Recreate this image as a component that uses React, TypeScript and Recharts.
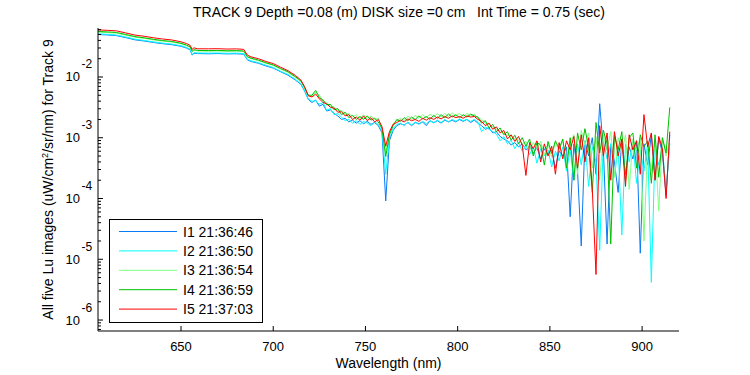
import { LineChart, Line, XAxis, YAxis, Legend } from "recharts";

const wavelengths = [
  605, 610, 615, 620, 625, 630, 635, 640, 645, 650,
  653, 655, 656, 657, 659, 665, 670, 675, 680, 684,
  686, 688, 692, 696, 700, 704, 708, 712, 715, 717,
  719,
  721, 723, 725, 727, 729, 731, 733, 735, 737, 739,
  741, 743, 745, 747, 749, 751, 753, 755, 757, 759,
  761, 763, 765, 767, 769, 771, 773, 775, 777, 779,
  781, 783, 785, 787, 789, 791, 793, 795, 797, 799,
  801, 803, 805, 807, 809, 811, 813, 815, 817, 819,
  821, 823, 825, 827, 829, 831, 833, 835, 837, 839,
  841, 843, 845, 847, 849, 851, 853, 855, 857, 859,
  861, 863, 865, 867, 869, 871, 873, 875, 877, 879,
  881, 883, 885, 887, 889, 891, 893, 895, 897, 899,
  901, 903, 905, 907, 909, 911, 913, 915,
];

// I1 21:36:46
const lu1 = [
  0.0501, 0.0492, 0.0479, 0.0445, 0.0409, 0.0391, 0.037, 0.0353, 0.034, 0.032,
  0.0299, 0.0279, 0.0229, 0.0245, 0.0243, 0.0241, 0.0243, 0.024, 0.0241, 0.0237,
  0.0191, 0.018, 0.0168, 0.0152, 0.014, 0.0122, 0.0107, 0.00891, 0.00759, 0.00589,
  0.00427,
  0.0038, 0.00417, 0.00331, 0.00355, 0.00275, 0.00288, 0.00251, 0.00229, 0.002, 0.00209,
  0.00182, 0.00195, 0.00174, 0.00191, 0.0017, 0.00186, 0.00166, 0.00178, 0.00158, 0.0012,
  9.12e-5, 0.000891, 0.00132, 0.00158, 0.0017, 0.00162, 0.00178, 0.00158, 0.00178, 0.0017,
  0.00182, 0.00158, 0.00191, 0.00178, 0.00191, 0.00174, 0.00195, 0.00182, 0.00195, 0.00182,
  0.002, 0.00186, 0.002, 0.00178, 0.00195, 0.00174, 0.00158, 0.00138, 0.00145, 0.0012,
  0.00126, 0.00105, 0.000955, 0.000891, 0.000759, 0.000832, 0.000708, 0.000794, 0.000631, 0.000724,
  0.00055, 0.000692, 0.000447, 0.000661, 0.000525, 0.000631, 0.000316, 0.000603, 0.000501, 0.000708,
  5.01e-5, 0.000794, 0.000282, 1.66e-5, 0.000891, 0.000501, 0.001, 0.000251, 0.00363, 0.000631,
  1.78e-5, 0.000794, 0.000398, 0.000126, 0.000891, 0.000251, 0.000708, 0.000447, 0.000891, 1.26e-5,
  0.000794, 0.000355, 0.00112, 0.0002, 0.001, 0.000562, 0.000112, 0.00112,
];

// I2 21:36:50
const lu2 = [
  0.0513, 0.0504, 0.049, 0.0455, 0.0419, 0.04, 0.0378, 0.0361, 0.0348, 0.0327,
  0.0305, 0.0285, 0.0234, 0.0251, 0.0248, 0.0247, 0.0248, 0.0245, 0.0247, 0.0243,
  0.0195, 0.0184, 0.0172, 0.0156, 0.0143, 0.0124, 0.011, 0.00912, 0.00776, 0.00603,
  0.00437,
  0.00398, 0.00407, 0.00355, 0.0038, 0.00282, 0.00302, 0.0024, 0.00251, 0.00219, 0.00191,
  0.002, 0.00174, 0.00191, 0.00166, 0.00186, 0.00174, 0.00158, 0.00182, 0.00166, 0.00126,
  0.000251, 0.001, 0.00141, 0.00166, 0.00174, 0.00158, 0.00182, 0.00162, 0.00182, 0.00166,
  0.00186, 0.0017, 0.00191, 0.00174, 0.00195, 0.00178, 0.002, 0.00182, 0.002, 0.00186,
  0.00204, 0.00191, 0.002, 0.00186, 0.002, 0.00182, 0.00126, 0.00151, 0.00138, 0.00126,
  0.00115, 0.000891, 0.00105, 0.000794, 0.000912, 0.000661, 0.000832, 0.000603, 0.000759, 0.000525,
  0.000708, 0.00038, 0.000661, 0.000501, 0.000631, 0.000331, 0.000603, 0.000417, 0.000708, 0.000282,
  0.000631, 0.0002, 0.000794, 0.000355, 0.000891, 0.000158, 0.000708, 0.000398, 1.41e-5, 0.000891,
  0.000447, 0.000794, 0.000224, 0.000708, 2.51e-5, 0.000794, 0.000398, 0.000891, 0.000178, 0.000631,
  0.000282, 0.000794, 4.17e-6, 0.000631, 0.000355, 0.000708, 0.000126, 0.000794,
];

// I3 21:36:54
const lu3 = [
  0.0547, 0.0537, 0.0525, 0.0488, 0.0452, 0.0432, 0.0407, 0.0389, 0.0376, 0.0351,
  0.0327, 0.0305, 0.0257, 0.0275, 0.0268, 0.0266, 0.0268, 0.0264, 0.0266, 0.0262,
  0.0211, 0.02, 0.0185, 0.0168, 0.0155, 0.0135, 0.0119, 0.00989, 0.00841, 0.00661,
  0.0049,
  0.00479, 0.00562, 0.00501, 0.00398, 0.0038, 0.00331, 0.00324, 0.00275, 0.00282, 0.0024,
  0.00251, 0.00219, 0.0024, 0.00209, 0.0024, 0.00204, 0.00229, 0.002, 0.00209, 0.00145,
  0.000562, 0.00117, 0.0017, 0.00191, 0.00209, 0.00191, 0.00229, 0.002, 0.00234, 0.00209,
  0.0024, 0.00214, 0.00245, 0.00219, 0.00251, 0.00219, 0.00251, 0.00224, 0.00257, 0.00229,
  0.00251, 0.00224, 0.00251, 0.00229, 0.00245, 0.00209, 0.002, 0.00174, 0.00166, 0.00151,
  0.00138, 0.00132, 0.00117, 0.0011, 0.00105, 0.000955, 0.000912, 0.000794, 0.000871, 0.000631,
  0.000832, 0.000661, 0.000871, 0.000525, 0.000794, 0.000479, 0.000832, 0.000603, 0.000912, 0.000398,
  0.000794, 0.00112, 0.000251, 0.00132, 0.000759, 0.0012, 0.000316, 0.00105, 0.0002, 0.00112,
  0.000631, 0.00126, 0.000224, 0.001, 0.000562, 0.00112, 0.000141, 0.000955, 0.000631, 0.001,
  2.0e-5, 0.000794, 0.000282, 0.000891, 6.31e-5, 0.001, 0.000501, 0.000891,
];

// I4 21:36:59
const lu4 = [
  0.0562, 0.0552, 0.054, 0.0501, 0.0462, 0.0442, 0.0417, 0.0398, 0.0385, 0.0359,
  0.0335, 0.0313, 0.0266, 0.0282, 0.0274, 0.0272, 0.0274, 0.027, 0.0272, 0.0268,
  0.0216, 0.0204, 0.019, 0.0172, 0.0158, 0.0138, 0.0122, 0.0101, 0.00861, 0.00676,
  0.00501,
  0.00501, 0.00603, 0.00457, 0.00417, 0.00347, 0.00355, 0.00288, 0.00302, 0.0024, 0.00263,
  0.00214, 0.00234, 0.002, 0.00224, 0.002, 0.00229, 0.00195, 0.00209, 0.00182, 0.00141,
  0.00049, 0.00112, 0.00158, 0.002, 0.00186, 0.00214, 0.00191, 0.00219, 0.002, 0.00229,
  0.00204, 0.00224, 0.002, 0.00234, 0.00209, 0.0024, 0.00214, 0.00245, 0.00219, 0.0024,
  0.00214, 0.0024, 0.00219, 0.00245, 0.00229, 0.00219, 0.00174, 0.00191, 0.00145, 0.00166,
  0.00126, 0.00145, 0.00112, 0.00126, 0.000912, 0.0011, 0.000794, 0.001, 0.000724, 0.000955,
  0.000501, 0.000832, 0.000759, 0.000355, 0.000871, 0.00055, 0.000891, 0.000661, 0.000955, 0.000316,
  0.001, 0.0002, 0.0012, 0.000631, 0.00141, 0.000708, 0.000126, 0.00178, 0.000562, 0.00132,
  0.000794, 1.78e-5, 0.00112, 0.000631, 0.00126, 0.0002, 0.001, 0.0012, 0.000316, 0.00112,
  0.000708, 0.000891, 0.000178, 0.00112, 0.000224, 0.001, 0.000562, 0.00316,
];

// I5 21:37:03
const lu5 = [
  0.0596, 0.0586, 0.0574, 0.0531, 0.049, 0.0468, 0.0442, 0.0422, 0.0407, 0.0379,
  0.0355, 0.0331, 0.0285, 0.0302, 0.0291, 0.0291, 0.0292, 0.0288, 0.029, 0.0285,
  0.0229, 0.0214, 0.02, 0.018, 0.0166, 0.0145, 0.0127, 0.0106, 0.00891, 0.00692,
  0.0049,
  0.00468, 0.00525, 0.00437, 0.0038, 0.00363, 0.00316, 0.00309, 0.00263, 0.00269, 0.00229,
  0.0024, 0.002, 0.00219, 0.00195, 0.00229, 0.00191, 0.00214, 0.00182, 0.002, 0.00151,
  0.000724, 0.00126, 0.00166, 0.00178, 0.00195, 0.00182, 0.00204, 0.00191, 0.002, 0.00186,
  0.00209, 0.00195, 0.00214, 0.002, 0.00219, 0.00204, 0.00224, 0.00209, 0.00229, 0.00214,
  0.00224, 0.00209, 0.00229, 0.00219, 0.00224, 0.002, 0.00186, 0.00158, 0.00174, 0.00138,
  0.00151, 0.0012, 0.00132, 0.000955, 0.00112, 0.000871, 0.00105, 0.000759, 0.00024, 0.000832,
  0.000661, 0.000891, 0.000398, 0.000794, 0.000501, 0.000724, 0.000251, 0.000832, 0.000447, 0.000891,
  0.000631, 0.00105, 0.000316, 0.00112, 0.000398, 0.001, 0.000141, 5.62e-6, 0.00158, 0.0005,
  0.0012, 0.0002, 0.00126, 0.000501, 0.000955, 0.000158, 0.00112, 0.000631, 0.000891, 0.000251,
  0.0024, 0.000708, 0.0012, 0.0002, 0.00105, 0.000661, 0.0001, 0.00126,
];

const seriesNames = ["I1 21:36:46", "I2 21:36:50", "I3 21:36:54", "I4 21:36:59", "I5 21:37:03"];
const seriesColors = ["#0a7af5", "#00ffff", "#80ff80", "#00c000", "#ff0000"];

const xTicks = [650, 700, 750, 800, 850, 900];
const yMajor = [1e-6, 1e-5, 1e-4, 1e-3, 1e-2];
const yMinor = [
  7e-7, 8e-7, 9e-7,
  2e-6, 3e-6, 4e-6, 5e-6, 6e-6, 7e-6, 8e-6, 9e-6,
  2e-5, 3e-5, 4e-5, 5e-5, 6e-5, 7e-5, 8e-5, 9e-5,
  2e-4, 3e-4, 4e-4, 5e-4, 6e-4, 7e-4, 8e-4, 9e-4,
  2e-3, 3e-3, 4e-3, 5e-3, 6e-3, 7e-3, 8e-3, 9e-3,
  2e-2, 3e-2, 4e-2, 5e-2, 6e-2,
];

const X_DOMAIN = [605, 920];
const Y_DOMAIN = [6.6e-7, 0.064];
const FONT = "'Liberation Sans', Arial, Helvetica, sans-serif";
const TITLE = "TRACK 9 Depth =0.08 (m) DISK size =0 cm   Int Time = 0.75 (sec)";

const data = wavelengths.map((wl, i) => ({
  wl,
  i1: lu1[i],
  i2: lu2[i],
  i3: lu3[i],
  i4: lu4[i],
  i5: lu5[i],
}));

// inward tick marks are drawn by the custom tick, at the coordinate the axis hands over
function BottomTick({ x, y, payload }: any) {
  return (
    <g>
      <path d={`M${x},${y}V${y - 5}`} stroke="#000" strokeWidth={1} fill="none" />
      <text x={x} y={y + 19.5} textAnchor="middle" fontSize={13} fontFamily={FONT} fill="#000">
        {payload.value}
      </text>
    </g>
  );
}

function TopTick({ x, y }: any) {
  return <path d={`M${x},${y}V${y + 5}`} stroke="#000" strokeWidth={1} fill="none" />;
}

function LeftTick({ x, y, payload }: any) {
  const major = yMajor.includes(payload.value);
  const exp = Math.round(Math.log10(payload.value));
  return (
    <g>
      <path d={`M${x},${y}H${x + (major ? 5 : 3)}`} stroke="#000" strokeWidth={1} fill="none" />
      {major && (
        <text fontFamily={FONT} fill="#000">
          <tspan x={x - 18} y={y + 4.5} textAnchor="end" fontSize={13}>10</tspan>
          <tspan x={x - 16.5} y={y - 8.5} textAnchor="start" fontSize={12}>{exp}</tspan>
        </text>
      )}
    </g>
  );
}

function RightTick({ x, y, payload }: any) {
  const major = yMajor.includes(payload.value);
  return <path d={`M${x},${y}H${x - (major ? 5 : 3)}`} stroke="#000" strokeWidth={1} fill="none" />;
}

function LegendBox(props: any) {
  const payload = props.payload ?? [];
  return (
    <svg width={154} height={104} style={{ display: "block" }}>
      <rect x={0.5} y={0.5} width={153} height={103} fill="#fff" stroke="#000" />
      {payload.map((p: any, i: number) => {
        const cy = 12.5 + i * 19.4;
        return (
          <g key={p.value}>
            <line x1={10} x2={68} y1={cy} y2={cy} stroke={p.color} />
            <text x={74} y={cy + 5} fontSize={14} fontFamily={FONT} fill="#000">
              {p.value}
            </text>
          </g>
        );
      })}
    </svg>
  );
}

const axisLine = { stroke: "#000" };

export default function App() {
  const lines = ["i1", "i2", "i3", "i4", "i5"];
  const yTicks = [...yMajor, ...yMinor];
  return (
    <div style={{ position: "absolute", left: 0, top: 0, width: 750, height: 375, background: "#fff" }}>
      <LineChart
        width={750}
        height={375}
        data={data}
        margin={{ top: 28, right: 71, bottom: 4, left: 38 }}
      >
        <XAxis
          xAxisId="b"
          dataKey="wl"
          type="number"
          domain={X_DOMAIN}
          allowDataOverflow
          ticks={xTicks}
          height={40}
          tickSize={0}
          tickMargin={0}
          tickLine={false}
          axisLine={axisLine}
          tick={BottomTick}
          interval={0}
        />
        <XAxis
          xAxisId="t"
          orientation="top"
          dataKey="wl"
          type="number"
          domain={X_DOMAIN}
          allowDataOverflow
          ticks={xTicks}
          height={0}
          tickSize={0}
          tickMargin={0}
          tickLine={false}
          axisLine={axisLine}
          tick={TopTick}
          interval={0}
        />
        <YAxis
          yAxisId="l"
          type="number"
          scale="log"
          domain={Y_DOMAIN}
          allowDataOverflow
          ticks={yTicks}
          width={60}
          tickSize={0}
          tickMargin={0}
          tickLine={false}
          axisLine={axisLine}
          tick={LeftTick}
          interval={0}
        />
        <YAxis
          yAxisId="r"
          orientation="right"
          type="number"
          scale="log"
          domain={Y_DOMAIN}
          allowDataOverflow
          ticks={yTicks}
          width={0}
          tickSize={0}
          tickMargin={0}
          tickLine={false}
          axisLine={axisLine}
          tick={RightTick}
          interval={0}
        />
        {lines.map((k, i) => (
          <Line
            key={k}
            xAxisId="b"
            yAxisId="l"
            type="linear"
            dataKey={k}
            name={seriesNames[i]}
            stroke={seriesColors[i]}
            strokeWidth={1}
            dot={false}
            isAnimationActive={false}
          />
        ))}
        <Legend
          layout="vertical"
          align="center"
          verticalAlign="middle"
          content={<LegendBox />}
          wrapperStyle={{ left: 109, top: 219, width: 154, height: 104 }}
        />
        <text x={399} y={17} textAnchor="middle" fontSize={14} fontFamily={FONT} fill="#000" xmlSpace="preserve">
          {TITLE}
        </text>
        <text x={388.5} y={368} textAnchor="middle" fontSize={14} fontFamily={FONT} fill="#000">
          Wavelength (nm)
        </text>
        <text transform="rotate(-90)" x={-179.5} y={53} textAnchor="middle" fontSize={14} fontFamily={FONT} fill="#000">
          All five Lu images (uW/cm
          <tspan dy={-5} fontSize={9}>2</tspan>
          <tspan dy={5}>/sr/nm) for Track 9</tspan>
        </text>
      </LineChart>
    </div>
  );
}
